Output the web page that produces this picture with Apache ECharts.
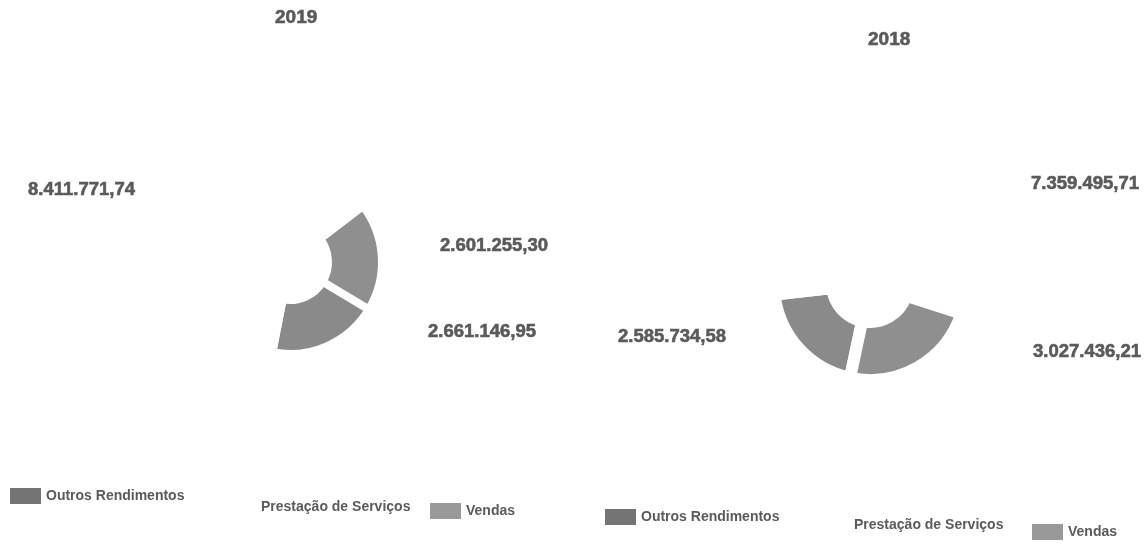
<!DOCTYPE html>
<html>
<head>
<meta charset="utf-8">
<script src="https://cdn.jsdelivr.net/npm/echarts@6/dist/echarts.min.js"></script>
<style>
  html, body { margin: 0; padding: 0; background: #ffffff; }
  #chart { width: 1147px; height: 546px; }
</style>
</head>
<body>
<div id="chart"></div>
<script>
// Revenue breakdown per year
const categories = ['Outros Rendimentos', 'Prestação de Serviços', 'Vendas'];
const years = ['2019', '2018'];
const values2019 = [2661146.95, 8411771.74, 2601255.30];
const values2018 = [2585734.58, 7359495.71, 3027436.21];

const FONT = '"Liberation Sans", Arial, sans-serif';
const TEXT_COLOR = '#5a5a5a';
const sliceColors = ['#8a8a8a', '#ffffff', '#8f8f8f'];
const swatchColors = ['#747474', '#ffffff', '#999999'];

// Brazilian number format: 1.234.567,89
function fmtBR(v) {
  const parts = v.toFixed(2).split('.');
  return parts[0].replace(/\B(?=(\d{3})+(?!\d))/g, '.') + ',' + parts[1];
}

// Label anchors (left edge, vertical middle) per chart and category
const labelSpots = [
  [[428, 332], [28, 190], [440, 246]],
  [[618, 337], [1031, 184], [1033, 352]]
];

// Legend placement per chart and category: [left, top]
const legendSpots = [
  [[10, 488], [225, 499], [430, 503]],
  [[605, 509], [818, 517], [1032, 524]]
];

// Heavy text style shared by titles and value labels
const heavyText = {
  fontFamily: FONT,
  fontWeight: 'bold',
  color: TEXT_COLOR,
  textBorderColor: TEXT_COLOR,
  textBorderWidth: 0.6
};

function pieSeries(idx, values, center, radius, startAngle, border) {
  return {
    type: 'pie',
    name: years[idx],
    center: center,
    radius: radius,
    startAngle: startAngle,
    clockwise: true,
    silent: true,
    animation: false,
    avoidLabelOverlap: false,
    itemStyle: { borderColor: '#ffffff', borderWidth: border },
    label: Object.assign({
      show: true,
      position: 'outside',
      formatter: p => fmtBR(p.value),
      fontSize: 18.5
    }, heavyText),
    labelLine: { show: false },
    labelLayout: function (params) {
      const spot = labelSpots[idx][params.dataIndex];
      return { x: spot[0], y: spot[1], align: 'left', verticalAlign: 'middle' };
    },
    emphasis: { disabled: true },
    data: categories.map((c, i) => ({
      name: c,
      value: values[i],
      itemStyle: { color: sliceColors[i] }
    }))
  };
}

const legends = [];
legendSpots.forEach(spots => {
  spots.forEach((pos, i) => {
    legends.push({
      data: [{ name: categories[i], itemStyle: { color: swatchColors[i], borderWidth: 0 } }],
      left: pos[0],
      top: pos[1],
      padding: 0,
      itemWidth: 31,
      itemHeight: 16,
      icon: 'rect',
      selectedMode: false,
      textStyle: { fontFamily: FONT, fontSize: 14, fontWeight: 'bold', color: TEXT_COLOR, lineHeight: 16 }
    });
  });
});

const chart = echarts.init(document.getElementById('chart'), null, { renderer: 'canvas' });
chart.setOption({
  backgroundColor: '#ffffff',
  animation: false,
  title: [
    { text: years[0], left: 275, top: 8, padding: 0,
      textStyle: Object.assign({ fontSize: 19 }, heavyText) },
    { text: years[1], left: 868, top: 30, padding: 0,
      textStyle: Object.assign({ fontSize: 19 }, heavyText) }
  ],
  legend: legends,
  series: [
    pieSeries(0, values2019, [290, 262], [38, 92], -31, 8),
    pieSeries(1, values2018, [870, 284], [38, 96], -102, 12)
  ]
});
</script>
</body>
</html>
